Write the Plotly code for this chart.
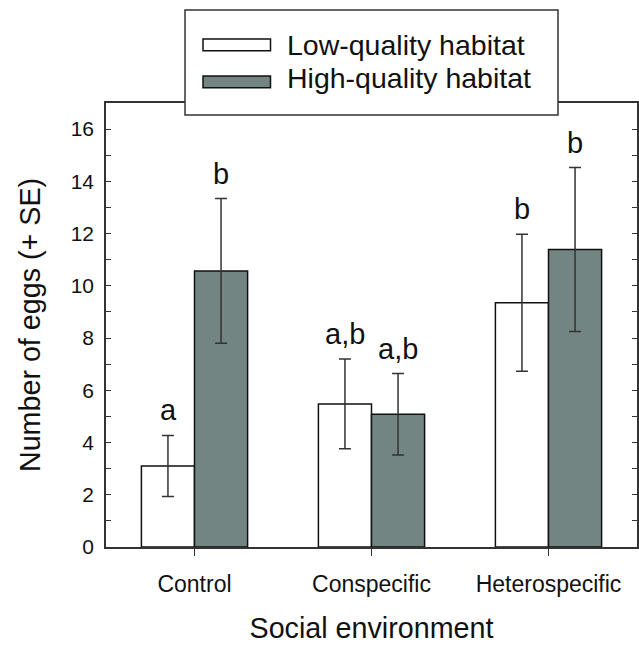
import plotly.graph_objects as go

categories = ["Control", "Conspecific", "Heterospecific"]
low_mean = [3.10, 5.48, 9.35]
low_se = [1.17, 1.72, 2.62]
high_mean = [10.57, 5.08, 11.39]
high_se = [2.77, 1.56, 3.14]
low_letters = ["a", "a,b", "b"]
high_letters = ["b", "a,b", "b"]
legend_names = ["Low-quality habitat", "High-quality habitat"]
y_tickvals = list(range(0, 17))
y_ticktext = [str(v) if v % 2 == 0 else "" for v in y_tickvals]

FONT = "Liberation Sans, Arial, sans-serif"
HIGH_COLOR = "#738582"
ERR_COLOR = "#333333"
TXT = "#111111"

fig = go.Figure()
fig.add_trace(go.Bar(
    x=categories, y=low_mean, name=legend_names[0],
    marker=dict(color="white", line=dict(color=TXT, width=1.5)),
    error_y=dict(type="data", array=low_se, visible=True, color=ERR_COLOR, thickness=1.5, width=6),
    showlegend=False,
))
fig.add_trace(go.Bar(
    x=categories, y=high_mean, name=legend_names[1],
    marker=dict(color=HIGH_COLOR, line=dict(color=TXT, width=1.5)),
    error_y=dict(type="data", array=high_se, visible=True, color=ERR_COLOR, thickness=1.5, width=6),
    showlegend=False,
))

# significance letters
for i, c in enumerate(categories):
    fig.add_annotation(x=c, y=low_mean[i] + low_se[i], text=low_letters[i], showarrow=False,
                       xshift=-26.5, yshift=7, yanchor="bottom",
                       font=dict(family=FONT, size=29, color=TXT))
    fig.add_annotation(x=c, y=high_mean[i] + high_se[i], text=high_letters[i], showarrow=False,
                       xshift=26.5, yshift=7, yanchor="bottom",
                       font=dict(family=FONT, size=29, color=TXT))

# custom legend box (positions relative to plot area: x 106..637 px, y 103..547 px)
def px(pix):
    return (pix - 106) / 531
def py(pix):
    return (547 - pix) / 444

fig.add_shape(type="rect", xref="paper", yref="paper", x0=px(185), x1=px(558), y0=py(115), y1=py(10),
              fillcolor="white", line=dict(color="#333333", width=1.5), layer="above")
fig.add_shape(type="rect", xref="paper", yref="paper", x0=px(203), x1=px(270.5), y0=py(50.7), y1=py(39),
              fillcolor="white", line=dict(color=TXT, width=1.5), layer="above")
fig.add_shape(type="rect", xref="paper", yref="paper", x0=px(203), x1=px(270.5), y0=py(87.7), y1=py(76),
              fillcolor=HIGH_COLOR, line=dict(color=TXT, width=1.5), layer="above")
fig.add_annotation(xref="paper", yref="paper", x=px(285), y=py(45), text=legend_names[0],
                   showarrow=False, xanchor="left", yanchor="middle",
                   font=dict(family=FONT, size=28.5, color=TXT))
fig.add_annotation(xref="paper", yref="paper", x=px(285), y=py(78), text=legend_names[1],
                   showarrow=False, xanchor="left", yanchor="middle",
                   font=dict(family=FONT, size=28.5, color=TXT))

fig.update_layout(
    width=639, height=645,
    margin=dict(l=106, r=2, t=103, b=98, autoexpand=False),
    paper_bgcolor="white", plot_bgcolor="white",
    barmode="group", bargap=0.40, bargroupgap=0,
    font=dict(family=FONT, color=TXT),
    showlegend=False,
)
fig.update_xaxes(
    automargin=False,
    showline=True, linecolor="#333333", linewidth=1.5, mirror=True,
    ticks="outside", ticklen=7, tickcolor="#333333", tickwidth=1.2,
    ticklabelstandoff=9,
    tickfont=dict(family=FONT, size=23, color=TXT),
    title=dict(text="Social environment", font=dict(family=FONT, size=28.7, color=TXT), standoff=22),
    showgrid=False,
)
fig.update_yaxes(
    automargin=False,
    range=[0, 17], tickvals=y_tickvals, ticktext=y_ticktext,
    showline=True, linecolor="#333333", linewidth=1.5, mirror="ticks",
    ticks="inside", ticklen=5, tickcolor="#333333", tickwidth=1.2,
    ticklabelstandoff=6,
    tickfont=dict(family=FONT, size=21, color=TXT),
    title=dict(text="Number of eggs (+ SE)", font=dict(family=FONT, size=28.7, color=TXT), standoff=22),
    showgrid=False, zeroline=False,
)

fig.write_html("out.html", config={"displayModeBar": False},
               post_script="document.body.style.margin='0';")
